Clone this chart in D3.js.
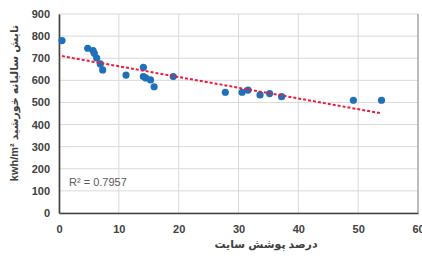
<!DOCTYPE html>
<html>
<head>
<meta charset="utf-8">
<script src="https://cdn.jsdelivr.net/npm/d3@7"></script>
<style>
  body { margin: 0; background: #fff; }
  text { font-family: "Liberation Sans", "DejaVu Sans", sans-serif; }
</style>
</head>
<body>
<script>
const w = 422;
const h = 260;
const margin = { top: 14, right: 4, bottom: 47, left: 59 };

// site coverage (%) and annual solar radiation (kwh/m2)
const coverage = [0.5, 4.8, 5.7, 5.9, 6.3, 6.9, 7.3, 11.2, 14.1, 14.1, 14.5, 15.3, 15.9, 19.1,
  27.8, 30.6, 31.6, 33.6, 35.2, 37.2, 49.2, 53.9];
const radiation = [780, 745, 735, 722, 701, 674, 647, 624, 659, 617, 611, 602, 571, 617,
  546, 546, 556, 534, 540, 526, 510, 510];
const xTicks = [0, 10, 20, 30, 40, 50, 60];
const yTicks = [0, 100, 200, 300, 400, 500, 600, 700, 800, 900];
const trendIntercept = 712;
const trendSlope = -4.85;
const trendRange = [0.5, 53.9];
const rSquared = "R² = 0.7957";

const x = d3.scaleLinear().domain([0, 60]).range([margin.left, w - margin.right]);
const y = d3.scaleLinear().domain([0, 900]).range([h - margin.bottom, margin.top]);

const svg = d3.select("body").append("svg").attr("width", w).attr("height", h);

// grid
svg.append("g")
  .selectAll("line.h")
  .data(yTicks)
  .enter()
  .append("line")
  .attr("x1", x(0)).attr("x2", x(60))
  .attr("y1", (d) => y(d)).attr("y2", (d) => y(d))
  .attr("stroke", "#d9d9d9").attr("stroke-width", 1);

svg.append("g")
  .selectAll("line.v")
  .data(xTicks)
  .enter()
  .append("line")
  .attr("x1", (d) => x(d)).attr("x2", (d) => x(d))
  .attr("y1", y(0)).attr("y2", y(900))
  .attr("stroke", "#d9d9d9").attr("stroke-width", 1);

// right border
svg.append("line")
  .attr("x1", x(60)).attr("x2", x(60))
  .attr("y1", y(0)).attr("y2", y(900))
  .attr("stroke", "#8c8c8c").attr("stroke-width", 1);

// axes
const xAxis = svg.append("g")
  .attr("transform", `translate(0, ${y(0)})`)
  .call(d3.axisBottom(x).tickValues(xTicks).tickSize(0).tickPadding(12));
const yAxis = svg.append("g")
  .attr("transform", `translate(${x(0)}, 0)`)
  .call(d3.axisLeft(y).tickValues(yTicks).tickSize(0).tickPadding(9));

[xAxis, yAxis].forEach((g) => {
  g.select(".domain").attr("stroke", "#404040").attr("stroke-width", 1.6);
  g.selectAll("text")
    .attr("fill", "#404040")
    .style("font-size", "11px")
    .style("font-weight", "bold");
});

// points
svg.append("g")
  .selectAll("circle")
  .data(coverage)
  .enter()
  .append("circle")
  .attr("cx", (d) => x(d))
  .attr("cy", (d, i) => y(radiation[i]))
  .attr("r", 3.6)
  .attr("fill", "#1f70b8");

// linear trend line
svg.append("line")
  .attr("x1", x(trendRange[0]))
  .attr("y1", y(trendIntercept + trendSlope * trendRange[0]))
  .attr("x2", x(trendRange[1]))
  .attr("y2", y(trendIntercept + trendSlope * trendRange[1]))
  .attr("stroke", "#ee1c3c")
  .attr("stroke-width", 2)
  .attr("stroke-dasharray", "3,2");

svg.append("text")
  .attr("x", 69)
  .attr("y", 186)
  .attr("fill", "#595959")
  .style("font-size", "11px")
  .text(rSquared);

// axis titles
svg.append("text")
  .attr("x", 266)
  .attr("y", 248)
  .attr("text-anchor", "middle")
  .attr("fill", "#404040")
  .style("font-size", "11px")
  .style("font-weight", "bold")
  .text("درصد پوشش سایت");

svg.append("text")
  .attr("transform", "rotate(-90)")
  .attr("x", -103)
  .attr("y", 18)
  .attr("text-anchor", "middle")
  .attr("direction", "rtl")
  .attr("fill", "#404040")
  .style("font-size", "11px")
  .style("font-weight", "bold")
  .text("تابش سالیانه خورشید kwh/m²");
</script>
</body>
</html>
